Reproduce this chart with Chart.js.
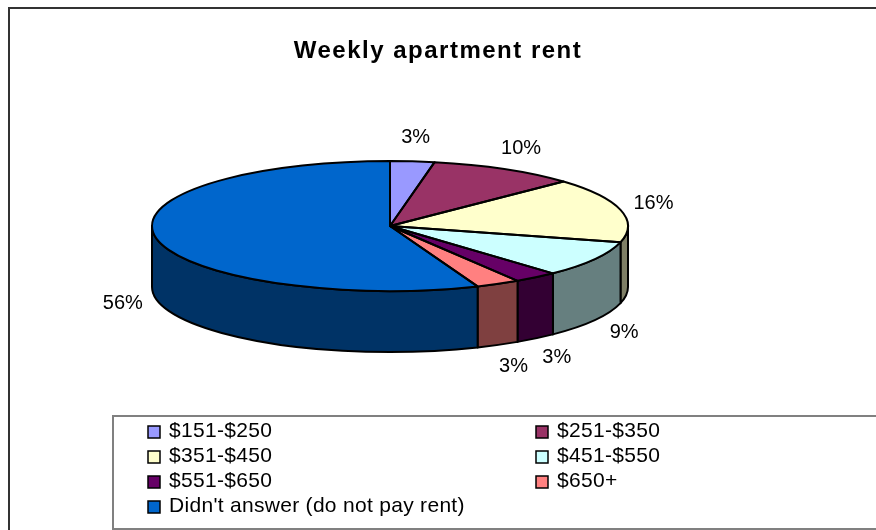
<!DOCTYPE html>
<html lang="en">
<head>
  <meta charset="UTF-8" />
  <title>Weekly apartment rent</title>
  <style>
    body {
      margin: 0;
      background: #fff;
    }
    #wrap {
      position: relative;
      width: 876px;
      height: 530px;
    }
  </style>
</head>
<body>
  <div id="wrap"><canvas id="rentChart"></canvas></div>

  <script src="https://cdn.jsdelivr.net/npm/chart.js"></script>
  <script>
    const chartTitle = 'Weekly apartment rent';
    const rentBands = ['$151-$250', '$251-$350', '$351-$450', '$451-$550', '$551-$650', '$650+', "Didn't answer (do not pay rent)"];
    const shares = [3, 10, 16, 9, 3, 3, 56];
    const bandColors = ['#9999FF', '#993366', '#FFFFCC', '#CCFFFF', '#660066', '#FF8080', '#0066CC'];

    const TILT = 0.273;   // how flat the pie top looks (ry / rx)
    const FONT = '"Liberation Sans", Arial, sans-serif';

    // side walls are the top colour at half brightness, like Excel does
    function shade(hex) {
      const n = parseInt(hex.slice(1), 16);
      const r = (n >> 16) >> 1, g = ((n >> 8) & 255) >> 1, b = (n & 255) >> 1;
      return `rgb(${r},${g},${b})`;
    }

    // chart area = bounding box of the whole 3d pie (top ellipse + depth)
    function pieGeom(chart) {
      const a = chart.chartArea;
      const rx = (a.right - a.left) / 2;
      const ry = rx * TILT;
      return { cx: (a.left + a.right) / 2, cy: a.top + ry, rx, ry, depth: a.bottom - a.top - 2 * ry };
    }

    function topTransform(ctx, g, arc) {
      ctx.translate(g.cx, g.cy);
      ctx.scale(g.rx / arc.outerRadius, g.ry / arc.outerRadius);
      ctx.translate(-arc.x, -arc.y);
    }

    const pie3d = {
      id: 'pie3d',
      beforeDraw(chart) {
        const ctx = chart.ctx;
        ctx.save();
        ctx.fillStyle = '#fff';
        ctx.fillRect(0, 0, chart.width, chart.height);
        ctx.strokeStyle = '#333';
        ctx.lineWidth = 2;
        ctx.strokeRect(9, 8, chart.width + 20, chart.height + 20);

        // title centred on the whole frame, not on the pie
        ctx.font = `bold 24px ${FONT}`;
        ctx.letterSpacing = '1.5px';
        ctx.fillStyle = '#000';
        ctx.textAlign = 'center';
        ctx.textBaseline = 'alphabetic';
        ctx.fillText(chartTitle, chart.width / 2, 58);
        ctx.restore();
      },
      beforeDatasetsDraw(chart) {
        const ctx = chart.ctx;
        const g = pieGeom(chart);
        const arcs = chart.getDatasetMeta(0).data;

        ctx.save();
        ctx.lineWidth = 2;
        ctx.strokeStyle = '#000';
        ctx.lineJoin = 'round';
        arcs.forEach((arc, i) => {
          const s = Math.max(arc.startAngle, 0);
          const e = Math.min(arc.endAngle, Math.PI);
          if (e <= s) return;
          ctx.beginPath();
          ctx.ellipse(g.cx, g.cy, g.rx, g.ry, 0, s, e);
          ctx.ellipse(g.cx, g.cy + g.depth, g.rx, g.ry, 0, e, s, true);
          ctx.closePath();
          ctx.fillStyle = shade(bandColors[i]);
          ctx.fill();
          ctx.stroke();
        });
        ctx.restore();

        // chart.js draws the slices, squashed into the top ellipse
        ctx.save();
        topTransform(ctx, g, arcs[0]);
      },
      afterDatasetsDraw(chart) {
        const ctx = chart.ctx;
        ctx.restore();
        const g = pieGeom(chart);
        const arcs = chart.getDatasetMeta(0).data;
        const total = shares.reduce((a, b) => a + b, 0);

        ctx.save();
        ctx.lineWidth = 2;
        ctx.strokeStyle = '#000';
        ctx.lineJoin = 'round';
        arcs.forEach(arc => {
          ctx.save();
          topTransform(ctx, g, arc);
          ctx.beginPath();
          ctx.moveTo(arc.x, arc.y);
          ctx.arc(arc.x, arc.y, arc.outerRadius, arc.startAngle, arc.endAngle);
          ctx.closePath();
          ctx.restore(); // keep the path, stroke with an even pen
          ctx.stroke();
        });

        ctx.font = `20px ${FONT}`;
        ctx.fillStyle = '#000';
        ctx.textAlign = 'center';
        ctx.textBaseline = 'middle';
        arcs.forEach((arc, i) => {
          const mid = (arc.startAngle + arc.endAngle) / 2;
          const sin = Math.sin(mid);
          const x = g.cx + (g.rx + 34) * Math.cos(mid);
          const y = g.cy + (g.ry + 24) * sin + (sin > 0 ? g.depth : 0);
          ctx.fillText(Math.round(shares[i] / total * 100) + '%', x, y);
        });
        ctx.restore();
      },
      afterDraw(chart) {
        // legend: two columns in a grey box, like the spreadsheet
        const ctx = chart.ctx;
        ctx.save();
        ctx.strokeStyle = '#808080';
        ctx.lineWidth = 2;
        ctx.strokeRect(113, 416, chart.width, 113);
        ctx.font = `21px ${FONT}`;
        ctx.letterSpacing = '0.3px';
        ctx.textBaseline = 'middle';
        rentBands.forEach((band, i) => {
          const x = i % 2 ? 536 : 148;
          const y = 432 + Math.floor(i / 2) * 25;
          ctx.fillStyle = bandColors[i];
          ctx.fillRect(x, y - 6, 12, 12);
          ctx.lineWidth = 1.5;
          ctx.strokeStyle = '#000';
          ctx.strokeRect(x, y - 6, 12, 12);
          ctx.fillStyle = '#000';
          ctx.fillText(band, x + 21, y - 1);
        });
        ctx.restore();
      }
    };

    new Chart(document.getElementById('rentChart'), {
      type: 'pie',
      data: {
        labels: rentBands,
        datasets: [{
          data: shares,
          backgroundColor: bandColors,
          borderWidth: 0
        }]
      },
      options: {
        responsive: true,
        maintainAspectRatio: false,
        animation: false,
        layout: {
          padding: { left: 152, right: 248, top: 161, bottom: 178 }
        },
        plugins: {
          legend: { display: false },
          tooltip: { enabled: false },
          title: { display: false }
        }
      },
      plugins: [pie3d]
    });
  </script>
</body>
</html>
